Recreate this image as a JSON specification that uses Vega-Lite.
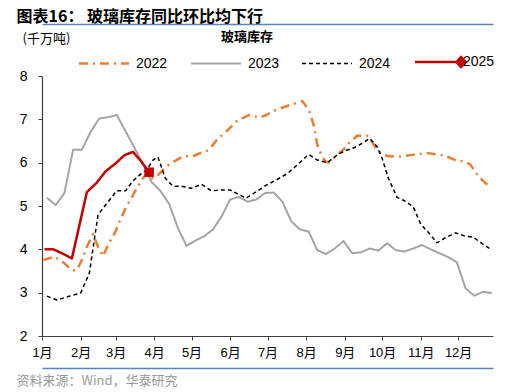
{
  "$schema": "https://vega.github.io/schema/vega-lite/v6.json",
  "width": 451,
  "height": 260,
  "autosize": {"type": "none"},
  "padding": {"left": 42, "top": 76, "right": 23, "bottom": 56},
  "background": "white",
  "config": {"view": {"stroke": null}, "font": "Liberation Sans", "axis": {"grid": false}},
  "datasets": {
    "d": [
      {"s": "2022", "day": 2, "v": 3.75}, {"s": "2022", "day": 11, "v": 3.83}, {"s": "2022", "day": 18, "v": 3.70},
      {"s": "2022", "day": 25, "v": 3.52}, {"s": "2022", "day": 29, "v": 3.52}, {"s": "2022", "day": 33, "v": 3.75},
      {"s": "2022", "day": 37, "v": 4.06}, {"s": "2022", "day": 42, "v": 4.35}, {"s": "2022", "day": 46, "v": 4.06},
      {"s": "2022", "day": 50, "v": 3.84}, {"s": "2022", "day": 54, "v": 4.10}, {"s": "2022", "day": 60, "v": 4.41},
      {"s": "2022", "day": 64, "v": 4.70}, {"s": "2022", "day": 69, "v": 5.00}, {"s": "2022", "day": 75, "v": 5.30},
      {"s": "2022", "day": 81, "v": 5.60}, {"s": "2022", "day": 85, "v": 5.75}, {"s": "2022", "day": 89, "v": 5.64},
      {"s": "2022", "day": 93, "v": 5.68}, {"s": "2022", "day": 98, "v": 5.83}, {"s": "2022", "day": 104, "v": 5.98},
      {"s": "2022", "day": 109, "v": 6.06}, {"s": "2022", "day": 114, "v": 6.14}, {"s": "2022", "day": 123, "v": 6.16},
      {"s": "2022", "day": 128, "v": 6.22}, {"s": "2022", "day": 135, "v": 6.29}, {"s": "2022", "day": 141, "v": 6.52},
      {"s": "2022", "day": 150, "v": 6.75}, {"s": "2022", "day": 157, "v": 6.95}, {"s": "2022", "day": 167, "v": 7.10},
      {"s": "2022", "day": 176, "v": 7.04}, {"s": "2022", "day": 181, "v": 7.10}, {"s": "2022", "day": 189, "v": 7.22},
      {"s": "2022", "day": 196, "v": 7.29}, {"s": "2022", "day": 202, "v": 7.35}, {"s": "2022", "day": 210, "v": 7.42},
      {"s": "2022", "day": 215, "v": 7.22}, {"s": "2022", "day": 219, "v": 6.88}, {"s": "2022", "day": 222, "v": 6.41},
      {"s": "2022", "day": 225, "v": 6.20}, {"s": "2022", "day": 228, "v": 6.04}, {"s": "2022", "day": 231, "v": 6.00},
      {"s": "2022", "day": 238, "v": 6.18}, {"s": "2022", "day": 244, "v": 6.33}, {"s": "2022", "day": 248, "v": 6.48},
      {"s": "2022", "day": 254, "v": 6.62}, {"s": "2022", "day": 262, "v": 6.62}, {"s": "2022", "day": 266, "v": 6.48},
      {"s": "2022", "day": 270, "v": 6.29}, {"s": "2022", "day": 275, "v": 6.18}, {"s": "2022", "day": 280, "v": 6.15},
      {"s": "2022", "day": 288, "v": 6.14}, {"s": "2022", "day": 298, "v": 6.18}, {"s": "2022", "day": 303, "v": 6.20},
      {"s": "2022", "day": 311, "v": 6.22}, {"s": "2022", "day": 321, "v": 6.18}, {"s": "2022", "day": 326, "v": 6.14},
      {"s": "2022", "day": 333, "v": 6.06}, {"s": "2022", "day": 341, "v": 6.02}, {"s": "2022", "day": 345, "v": 5.95},
      {"s": "2022", "day": 349, "v": 5.77}, {"s": "2022", "day": 355, "v": 5.58}, {"s": "2022", "day": 359, "v": 5.48},

      {"s": "2023", "day": 5, "v": 5.19}, {"s": "2023", "day": 12, "v": 5.02}, {"s": "2023", "day": 19, "v": 5.30},
      {"s": "2023", "day": 26, "v": 6.30}, {"s": "2023", "day": 33, "v": 6.30}, {"s": "2023", "day": 40, "v": 6.71},
      {"s": "2023", "day": 47, "v": 7.02}, {"s": "2023", "day": 54, "v": 7.05}, {"s": "2023", "day": 61, "v": 7.10},
      {"s": "2023", "day": 68, "v": 6.73}, {"s": "2023", "day": 75, "v": 6.35}, {"s": "2023", "day": 82, "v": 5.98},
      {"s": "2023", "day": 89, "v": 5.55}, {"s": "2023", "day": 96, "v": 5.35}, {"s": "2023", "day": 103, "v": 5.05},
      {"s": "2023", "day": 110, "v": 4.50}, {"s": "2023", "day": 117, "v": 4.08}, {"s": "2023", "day": 124, "v": 4.20},
      {"s": "2023", "day": 131, "v": 4.30}, {"s": "2023", "day": 138, "v": 4.45}, {"s": "2023", "day": 145, "v": 4.75},
      {"s": "2023", "day": 152, "v": 5.15}, {"s": "2023", "day": 159, "v": 5.21}, {"s": "2023", "day": 166, "v": 5.10},
      {"s": "2023", "day": 173, "v": 5.15}, {"s": "2023", "day": 180, "v": 5.30}, {"s": "2023", "day": 187, "v": 5.31},
      {"s": "2023", "day": 194, "v": 5.10}, {"s": "2023", "day": 201, "v": 4.65}, {"s": "2023", "day": 208, "v": 4.46},
      {"s": "2023", "day": 215, "v": 4.41}, {"s": "2023", "day": 222, "v": 3.98}, {"s": "2023", "day": 229, "v": 3.89},
      {"s": "2023", "day": 236, "v": 4.02}, {"s": "2023", "day": 243, "v": 4.19}, {"s": "2023", "day": 250, "v": 3.91},
      {"s": "2023", "day": 257, "v": 3.93}, {"s": "2023", "day": 264, "v": 4.02}, {"s": "2023", "day": 271, "v": 3.97},
      {"s": "2023", "day": 278, "v": 4.14}, {"s": "2023", "day": 285, "v": 3.98}, {"s": "2023", "day": 292, "v": 3.95},
      {"s": "2023", "day": 299, "v": 4.02}, {"s": "2023", "day": 306, "v": 4.10}, {"s": "2023", "day": 313, "v": 4.00},
      {"s": "2023", "day": 320, "v": 3.91}, {"s": "2023", "day": 327, "v": 3.82}, {"s": "2023", "day": 334, "v": 3.70},
      {"s": "2023", "day": 341, "v": 3.10}, {"s": "2023", "day": 348, "v": 2.93}, {"s": "2023", "day": 355, "v": 3.02},
      {"s": "2023", "day": 362, "v": 2.99},

      {"s": "2024", "day": 5, "v": 2.92}, {"s": "2024", "day": 13, "v": 2.83}, {"s": "2024", "day": 22, "v": 2.91},
      {"s": "2024", "day": 32, "v": 2.99}, {"s": "2024", "day": 39, "v": 3.45}, {"s": "2024", "day": 46, "v": 4.80},
      {"s": "2024", "day": 53, "v": 5.06}, {"s": "2024", "day": 61, "v": 5.35}, {"s": "2024", "day": 68, "v": 5.35},
      {"s": "2024", "day": 74, "v": 5.58}, {"s": "2024", "day": 80, "v": 5.73}, {"s": "2024", "day": 85, "v": 5.83},
      {"s": "2024", "day": 90, "v": 6.06}, {"s": "2024", "day": 94, "v": 6.13}, {"s": "2024", "day": 100, "v": 5.64},
      {"s": "2024", "day": 106, "v": 5.46}, {"s": "2024", "day": 114, "v": 5.45}, {"s": "2024", "day": 121, "v": 5.41},
      {"s": "2024", "day": 129, "v": 5.50}, {"s": "2024", "day": 137, "v": 5.35}, {"s": "2024", "day": 145, "v": 5.37},
      {"s": "2024", "day": 152, "v": 5.37}, {"s": "2024", "day": 160, "v": 5.25}, {"s": "2024", "day": 165, "v": 5.18},
      {"s": "2024", "day": 173, "v": 5.33}, {"s": "2024", "day": 181, "v": 5.48}, {"s": "2024", "day": 189, "v": 5.60},
      {"s": "2024", "day": 198, "v": 5.75}, {"s": "2024", "day": 206, "v": 5.95}, {"s": "2024", "day": 215, "v": 6.19},
      {"s": "2024", "day": 222, "v": 6.06}, {"s": "2024", "day": 230, "v": 6.00}, {"s": "2024", "day": 238, "v": 6.18},
      {"s": "2024", "day": 244, "v": 6.27}, {"s": "2024", "day": 252, "v": 6.35}, {"s": "2024", "day": 260, "v": 6.48},
      {"s": "2024", "day": 264, "v": 6.56}, {"s": "2024", "day": 270, "v": 6.37}, {"s": "2024", "day": 274, "v": 6.10},
      {"s": "2024", "day": 279, "v": 5.64}, {"s": "2024", "day": 286, "v": 5.20}, {"s": "2024", "day": 292, "v": 5.12},
      {"s": "2024", "day": 299, "v": 4.98}, {"s": "2024", "day": 305, "v": 4.58}, {"s": "2024", "day": 313, "v": 4.33},
      {"s": "2024", "day": 318, "v": 4.15}, {"s": "2024", "day": 325, "v": 4.27}, {"s": "2024", "day": 333, "v": 4.38},
      {"s": "2024", "day": 340, "v": 4.31}, {"s": "2024", "day": 347, "v": 4.28}, {"s": "2024", "day": 354, "v": 4.14},
      {"s": "2024", "day": 362, "v": 3.98},

      {"s": "2025", "day": 3, "v": 4.00}, {"s": "2025", "day": 10, "v": 4.00}, {"s": "2025", "day": 17, "v": 3.91},
      {"s": "2025", "day": 25, "v": 3.79}, {"s": "2025", "day": 37, "v": 5.32}, {"s": "2025", "day": 45, "v": 5.54},
      {"s": "2025", "day": 52, "v": 5.80}, {"s": "2025", "day": 60, "v": 5.98}, {"s": "2025", "day": 67, "v": 6.17},
      {"s": "2025", "day": 74, "v": 6.25}, {"s": "2025", "day": 80, "v": 6.05}, {"s": "2025", "day": 87, "v": 5.78}
    ]
  },
  "data": {"name": "d"},
  "encoding": {
    "y": {
      "field": "v", "type": "quantitative",
      "scale": {"domain": [2, 8], "nice": false, "zero": false},
      "axis": {
        "values": [2, 3, 4, 5, 6, 7, 8], "grid": false,
        "title": "(千万吨)", "titleAngle": 0, "titleX": 4, "titleY": -38, "titleAlign": "center", "titleBaseline": "middle",
        "titleFont": "Noto Sans CJK SC", "titleFontSize": 13, "titleFontWeight": "normal", "titleColor": "#000000",
        "labelFont": "Liberation Sans", "labelFontSize": 14, "labelColor": "#000000", "labelPadding": 11,
        "tickSize": 4, "tickColor": "#404040", "domainColor": "#404040", "domainWidth": 1.2
      }
    }
  },
  "layer": [
    {
      "transform": [{"filter": "datum.s !== '2025'"}],
      "mark": {"type": "line", "strokeCap": "butt", "strokeJoin": "round"},
      "encoding": {
        "x": {
          "field": "day", "type": "quantitative",
          "scale": {"domain": [1, 363], "nice": false, "zero": false},
          "axis": {
            "orient": "bottom", "values": [1, 32, 60, 91, 121, 152, 182, 213, 244, 274, 305, 335],
            "labelExpr": "(indexof([1, 32, 60, 91, 121, 152, 182, 213, 244, 274, 305, 335], datum.value) + 1) + '月'",
            "labelFont": "Liberation Sans, Noto Sans CJK SC", "labelFontSize": 13, "labelColor": "#000000", "labelPadding": 6,
            "labelFlush": false, "labelOverlap": false,
            "tickSize": 4, "tickColor": "#404040", "domainColor": "#404040", "domainWidth": 1.2, "title": null, "grid": false
          }
        },
        "color": {
          "field": "s", "type": "nominal",
          "scale": {"domain": ["2022", "2023", "2024", "2025"], "range": ["#ED7D31", "#A5A5A5", "#000000", "#C00000"]},
          "legend": {
            "orient": "none", "legendX": 55, "legendY": -34, "direction": "horizontal", "columns": 4,
            "title": "玻璃库存", "titleOrient": "top", "titleAnchor": "middle",
            "titleFont": "Noto Sans CJK SC", "titleFontSize": 13, "titleFontWeight": "bold", "titleColor": "#000000", "titlePadding": 0,
            "padding": 0, "symbolType": "stroke", "symbolSize": 2500, "symbolStrokeWidth": 2.5,
            "labelFont": "Liberation Sans", "labelFontSize": 14, "labelColor": "#000000", "labelOffset": 25, "columnPadding": 19,
            "encode": {
              "title": {"update": {"dx": {"value": -49}, "dy": {"value": -11}}},
              "labels": {"update": {"dx": {"signal": "datum.value === '2025' ? -9 : 0"}}},
              "symbols": {"update": {
                "shape": {"signal": "datum.value === '2025' ? 'M-1,0L1,0M0.66,0L0.84,-0.2L1.02,0L0.84,0.2Z' : 'stroke'"},
                "fill": {"signal": "datum.value === '2025' ? '#C00000' : 'transparent'"},
                "strokeWidth": {"signal": "datum.value === '2024' ? 1.5 : (datum.value === '2023' ? 2 : 2.5)"}
              }}
            }
          }
        },
        "strokeDash": {
          "field": "s", "type": "nominal",
          "scale": {"domain": ["2022", "2023", "2024", "2025"], "range": [[9, 5, 2, 5], [1, 0], [4, 3], [1, 0]]}
        },
        "strokeWidth": {
          "condition": [{"test": "datum.s === '2024'", "value": 1.5}, {"test": "datum.s === '2023'", "value": 2}],
          "value": 2.5
        }
      }
    },
    {
      "transform": [{"filter": "datum.s === '2025'"}],
      "mark": {"type": "line", "strokeWidth": 2.5, "strokeJoin": "round"},
      "encoding": {
        "x": {
          "field": "day", "type": "quantitative",
          "scale": {"domain": [1, 363], "nice": false, "zero": false},
          "axis": {
            "orient": "bottom", "offset": 32, "ticks": false, "labels": false, "grid": false,
            "domainColor": "#5B87B8", "domainWidth": 1.5,
            "title": "资料来源：Wind，华泰研究", "titleX": -26, "titleY": 12, "titleAlign": "left", "titleBaseline": "middle",
            "titleFont": "Noto Sans CJK SC", "titleFontSize": 13, "titleFontWeight": "normal", "titleColor": "#9A9A9A"
          }
        },
        "color": {
          "field": "s", "type": "nominal",
          "scale": {"domain": ["2022", "2023", "2024", "2025"], "range": ["#ED7D31", "#A5A5A5", "#000000", "#C00000"]}
        },
        "strokeDash": {
          "field": "s", "type": "nominal",
          "scale": {"domain": ["2022", "2023", "2024", "2025"], "range": [[9, 5, 2, 5], [1, 0], [4, 3], [1, 0]]}
        }
      }
    },
    {
      "transform": [{"filter": "datum.s === '2025' && datum.day > 85"}],
      "mark": {"type": "point", "shape": "square", "filled": true, "size": 90, "color": "#C00000", "opacity": 1},
      "encoding": {
        "x": {
          "field": "day", "type": "quantitative",
          "scale": {"domain": [1, 363], "nice": false, "zero": false},
          "axis": {
            "orient": "top", "offset": 52, "ticks": false, "labels": false, "grid": false,
            "domainColor": "#5B87B8", "domainWidth": 1.5,
            "title": "图表16： 玻璃库存同比环比均下行", "titleX": -26, "titleY": -8, "titleAlign": "left", "titleBaseline": "middle",
            "titleFont": "Noto Sans CJK SC", "titleFontSize": 16, "titleFontWeight": "bold", "titleColor": "#000000"
          }
        }
      }
    }
  ],
  "resolve": {"axis": {"x": "independent"}}
}
